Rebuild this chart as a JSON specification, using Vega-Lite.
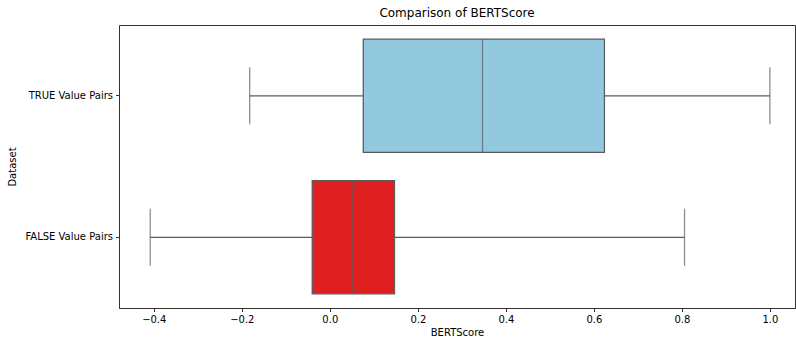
{
  "$schema": "https://vega.github.io/schema/vega-lite/v6.json",
  "autosize": "none",
  "width": 676,
  "height": 283,
  "padding": {"left": 119, "top": 25, "right": 1, "bottom": 31},
  "background": "white",
  "title": {"text": "Comparison of BERTScore", "font": "DejaVu Sans", "fontSize": 12, "fontWeight": "normal", "color": "#000000", "offset": 5},
  "data": {"values": [
    {"dataset": "TRUE Value Pairs", "lower": -0.182, "q1": 0.076, "median": 0.347, "q3": 0.624, "upper": 1.0},
    {"dataset": "FALSE Value Pairs", "lower": -0.408, "q1": -0.040, "median": 0.052, "q3": 0.147, "upper": 0.806}
  ]},
  "config": {
    "view": {"stroke": "#333333", "strokeWidth": 1},
    "axis": {"labelFont": "DejaVu Sans", "titleFont": "DejaVu Sans", "labelFontSize": 10, "titleFontSize": 10, "titleFontWeight": "normal", "labelColor": "#000000", "titleColor": "#000000", "domainColor": "#333333", "tickColor": "#333333", "grid": false, "tickSize": 3.5, "labelPadding": 3}
  },
  "encoding": {
    "y": {"field": "dataset", "type": "nominal", "sort": ["TRUE Value Pairs", "FALSE Value Pairs"],
      "scale": {"paddingInner": 0, "paddingOuter": 0},
      "axis": {"title": "Dataset", "titlePadding": 7, "domain": false}}
  },
  "layer": [
    {"mark": {"type": "rule", "color": "#5a5a5a", "strokeWidth": 1.25},
     "encoding": {"x": {"field": "lower", "type": "quantitative", "scale": {"domain": [-0.479, 1.057], "nice": false, "zero": false},
        "axis": {"title": "BERTScore", "values": [-0.4, -0.2, 0.0, 0.2, 0.4, 0.6, 0.8, 1.0], "format": ".1f", "titlePadding": 3}},
       "x2": {"field": "q1"}}},
    {"mark": {"type": "rule", "color": "#5a5a5a", "strokeWidth": 1.25},
     "encoding": {"x": {"field": "q3", "type": "quantitative"}, "x2": {"field": "upper"}}},
    {"mark": {"type": "bar", "height": {"band": 0.8}, "stroke": "#5a5a5a", "strokeWidth": 1.25},
     "encoding": {"x": {"field": "q1", "type": "quantitative"}, "x2": {"field": "q3"},
       "color": {"field": "dataset", "type": "nominal", "scale": {"domain": ["TRUE Value Pairs", "FALSE Value Pairs"], "range": ["#93c9de", "#df2020"]}, "legend": null}}},
    {"mark": {"type": "tick", "orient": "vertical", "color": "#5a5a5a", "thickness": 1.25, "size": 113},
     "encoding": {"x": {"field": "median", "type": "quantitative"}}},
    {"mark": {"type": "tick", "orient": "vertical", "color": "#5a5a5a", "thickness": 1.25, "size": 57},
     "encoding": {"x": {"field": "lower", "type": "quantitative"}}},
    {"mark": {"type": "tick", "orient": "vertical", "color": "#5a5a5a", "thickness": 1.25, "size": 57},
     "encoding": {"x": {"field": "upper", "type": "quantitative"}}}
  ]
}
